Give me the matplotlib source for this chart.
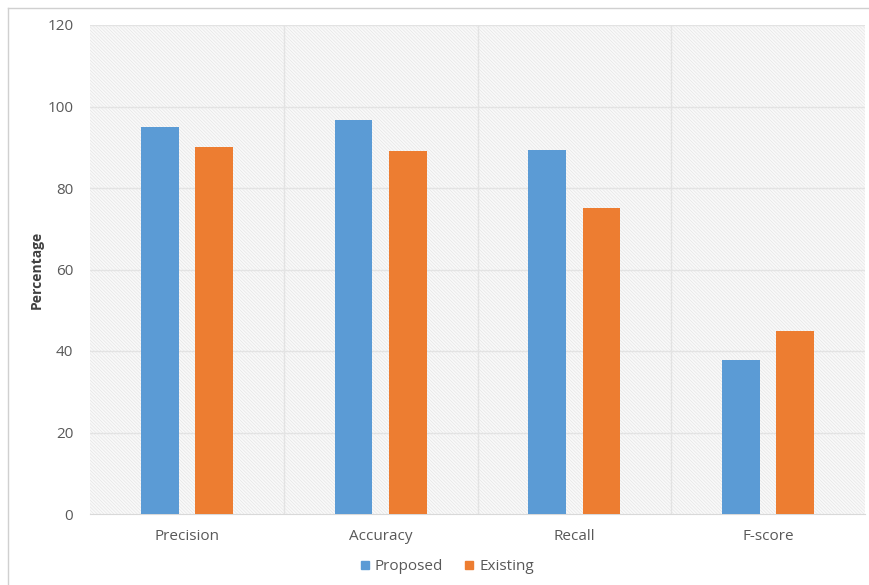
import numpy as np
import matplotlib.pyplot as plt
from matplotlib.lines import Line2D

categories = ['Precision', 'Accuracy', 'Recall', 'F-score']
proposed = [95, 96.7, 89.4, 37.8]
existing = [90, 89, 75, 45]
yticks = [0, 20, 40, 60, 80, 100, 120]

blue = '#5B9BD5'
orange = '#ED7D31'
txt = '#595959'

plt.rcParams['font.family'] = ['Open Sans', 'DejaVu Sans']
plt.rcParams['hatch.linewidth'] = 0.4

fig = plt.figure(figsize=(8.69, 5.85), dpi=100)
ax = fig.add_axes([90/869, 1-514/585, 775/869, 489/585])

x = np.arange(len(categories))
ax.set_xlim(-0.5, len(categories)-0.5)
ax.set_ylim(0, 120)

# fine hatched plot background
ax.add_patch(plt.Rectangle((0, 0), 1, 1, transform=ax.transAxes,
                           facecolor='#f9f9f9', edgecolor='#e2e2e2', lw=0,
                           hatch='\\' * 10, zorder=0))
for v in yticks[1:]:
    ax.axhline(v, color='#e3e3e3', lw=1, zorder=1)
for b in np.arange(0.5, len(categories)-0.5, 1):
    ax.axvline(b, color='#e3e3e3', lw=1, zorder=1)

w = 0.196
ax.bar(x-0.14, proposed, w, color=blue, zorder=3, label='Proposed')
ax.bar(x+0.14, existing, w, color=orange, zorder=3, label='Existing')

for s in ['top', 'right', 'left']:
    ax.spines[s].set_visible(False)
ax.spines['bottom'].set_color('#d9d9d9')
ax.set_xticks(x)
ax.set_xticklabels(categories)
ax.set_yticks(yticks)
ax.tick_params(length=0, colors=txt, labelsize=11)
ax.tick_params(axis='x', pad=11)
ax.tick_params(axis='y', pad=12)
ax.set_ylabel('Percentage', fontsize=10, fontweight='bold', color='#404040')
ax.yaxis.set_label_coords(-46/775, 0.5)

handles = [Line2D([], [], marker='s', ls='none', color=blue, markersize=6),
           Line2D([], [], marker='s', ls='none', color=orange, markersize=6)]
fig.legend(handles, ['Proposed', 'Existing'], loc='center', ncol=2,
           bbox_to_anchor=(447/869, 1-567/585), frameon=False,
           fontsize=11, labelcolor=txt, handlelength=0.6, handletextpad=0.35,
           columnspacing=1.4)

# outer frame lines
fig.add_artist(Line2D([8/869, 1], [1-8/585, 1-8/585], transform=fig.transFigure, color='#d0d0d0', lw=1))
fig.add_artist(Line2D([8/869, 8/869], [0, 1-8/585], transform=fig.transFigure, color='#d0d0d0', lw=1))

fig.savefig('out.png', dpi=100)
